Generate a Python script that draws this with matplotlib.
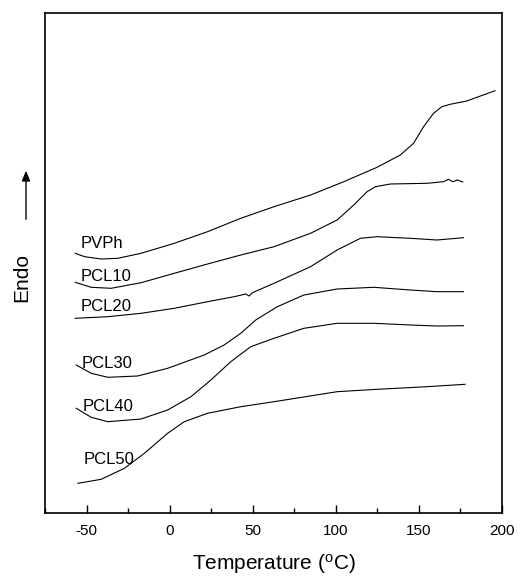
import matplotlib
matplotlib.use("Agg")
import matplotlib.pyplot as plt
from matplotlib.ticker import MultipleLocator

plt.rcParams['font.family'] = ['Liberation Sans', 'DejaVu Sans']

# Temperature (°C) and heat-flow (arbitrary units, Endo up)
pvph_T = [-56.8, -51.2, -41.2, -31.2, -17.2, 2.8, 22.8, 42.8, 62.8, 84.8, 104.8, 124.8,
          138.8, 146.8, 152.8, 158.8, 163.8, 168.8, 178.8, 195.8]
pvph_y = [259.7, 256.3, 254, 254.7, 259.7, 269.7, 281.3, 294.7, 306.3, 318, 331.3, 345.7,
          358, 369.7, 386.3, 399.7, 406.3, 408.7, 412, 422.3]

pcl10_T = [-56.8, -47.2, -35.2, -17.2, 2.8, 22.8, 42.8, 62.8, 84.8, 100.8, 110.8, 118.8,
           123.8, 132.8, 154.8, 164.8, 167.8, 170.4, 173.2, 176.4]
pcl10_y = [230.7, 225.7, 224.7, 230.3, 239.7, 249, 258, 266.3, 279.7, 293, 308, 321.3,
           326.3, 329, 329.7, 331.3, 333.7, 331.3, 333, 331]

pcl20_T = [-56.8, -37.2, -17.2, 2.8, 22.8, 38.8, 45.8, 47.8, 49.8, 62.8, 84.8, 100.8,
           114.8, 124.8, 144.8, 160.8, 172.8, 176.8]
pcl20_y = [194.7, 196.3, 199.7, 204.7, 211.3, 216.3, 219, 217, 220.3, 229.7, 246.3, 263,
           274.7, 276.3, 274.7, 273, 274.7, 275.3]

pcl30_T = [-56.2, -47.2, -37.2, -19.2, -1.2, 20.8, 32.8, 42.8, 51.8, 64.8, 80.8, 100.8,
           122.8, 144.8, 160.8, 176.8]
pcl30_y = [148, 139.7, 135.7, 137, 144.7, 158, 168, 179.7, 193, 206.3, 218, 224,
           225.7, 223, 221.3, 221.3]

pcl40_T = [-56.2, -47.2, -37.2, -17.2, -1.2, 12.8, 24.8, 36.8, 48.8, 62.8, 80.8, 100.8,
           122.8, 144.8, 160.8, 176.8]
pcl40_y = [104.7, 95.7, 91.3, 94, 103, 116.3, 133, 151.3, 166.3, 174.7, 184.7, 189.7,
           189.7, 188, 187, 187.3]

pcl50_T = [-55.2, -41.2, -27.2, -15.2, -1.2, 8.8, 22.8, 42.8, 62.8, 100.8, 124.8, 154.8, 177.8]
pcl50_y = [29.7, 33.7, 44.7, 59.7, 79.7, 91.3, 99.7, 106.3, 111.3, 121.3, 123.7, 126.3, 128.7]

labels = ['PVPh', 'PCL10', 'PCL20', 'PCL30', 'PCL40', 'PCL50']
label_T = [-53.6, -53.6, -53.6, -52.8, -52.2, -51.6]
label_y = [269.7, 236.7, 206.3, 149.7, 106.3, 53]

xticks = [-50, 0, 50, 100, 150, 200]

fig = plt.figure(figsize=(5.2, 5.76), dpi=100)
ax = fig.add_axes([45/520, 1-513/576, (502-45)/520, (513-13)/576])

series = [(pvph_T, pvph_y), (pcl10_T, pcl10_y), (pcl20_T, pcl20_y),
          (pcl30_T, pcl30_y), (pcl40_T, pcl40_y), (pcl50_T, pcl50_y)]
for T, y in series:
    ax.plot(T, y, color='black', lw=0.8, solid_joinstyle='round')

for lab, t, y in zip(labels, label_T, label_y):
    ax.text(t, y, lab, fontsize=12, ha='left', va='center')

ax.set_xlim(-75, 200)
ax.set_ylim(0, 500)
ax.set_xticks(xticks)
ax.set_xticklabels([str(v) for v in xticks], fontsize=11)
ax.xaxis.set_minor_locator(MultipleLocator(25))
ax.tick_params(axis='x', which='major', direction='in', length=6, width=1, pad=8)
ax.tick_params(axis='x', which='minor', direction='in', length=3.5, width=1)
ax.set_yticks([])
for s in ax.spines.values():
    s.set_linewidth(1.2)

ax.set_xlabel('Temperature ($\\mathregular{^{o}}$C)', fontsize=15, labelpad=10)
fig.text(22/520, 1-278/576, 'Endo', rotation=90, fontsize=15, ha='center', va='center')
fig.add_artist(matplotlib.patches.FancyArrowPatch(
    (26/520, 1-222/576), (26/520, 1-168/576), transform=fig.transFigure,
    arrowstyle='-|>,head_length=6,head_width=2.5', color='black', lw=1.0))

fig.savefig('out.png', dpi=100)
